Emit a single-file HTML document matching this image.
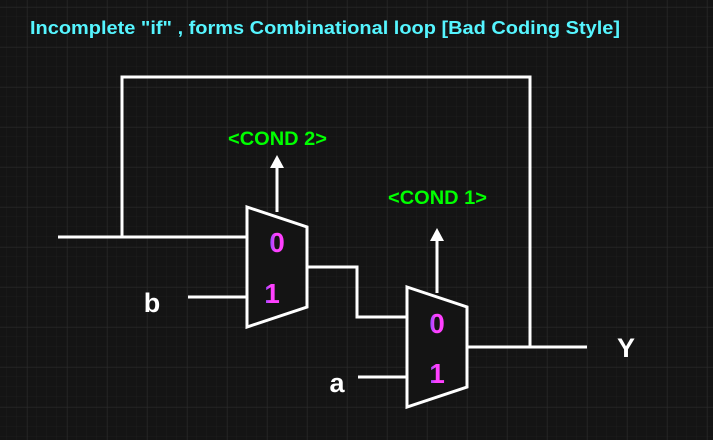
<!DOCTYPE html>
<html><head><style>
html,body{margin:0;padding:0;background:#141414;}
svg{display:block;}
text{font-family:"Liberation Sans",Arial,sans-serif;font-weight:bold;}
</style></head><body>
<svg width="713" height="440" viewBox="0 0 713 440" xmlns="http://www.w3.org/2000/svg">
<defs>
<pattern id="minor" x="7" y="7" width="10" height="10" patternUnits="userSpaceOnUse">
<path d="M10 0V10M0 10H10" stroke="#1d1d1d" stroke-width="1" fill="none"/>
</pattern>
<pattern id="major" x="27.5" y="7.5" width="40" height="40" patternUnits="userSpaceOnUse">
<path d="M0 0V40M0 0H40" stroke="#2c2c2c" stroke-width="1" fill="none"/>
</pattern>
<linearGradient id="mg" x1="0" x2="1" y1="0" y2="0">
<stop offset="0" stop-color="#7a4cff"/><stop offset="0.4" stop-color="#ff40ff"/><stop offset="1" stop-color="#ff40ff"/>
</linearGradient>
</defs>
<rect width="713" height="440" fill="#141414"/>
<rect width="713" height="440" fill="url(#minor)"/>
<rect width="713" height="440" fill="url(#major)"/>

<text x="30" y="34" font-size="18" fill="#55f5ff" textLength="590" lengthAdjust="spacingAndGlyphs">Incomplete "if" , forms Combinational loop [Bad Coding Style]</text>

<g stroke="#fff" stroke-width="3" fill="none">
<polyline points="58,237 247,237"/>
<polyline points="122,237 122,77 530,77 530,347"/>
<polyline points="468,347 587,347"/>
<polyline points="188,297 247,297"/>
<polyline points="307,267 357,267 357,317 407,317"/>
<polyline points="358,377 407,377"/>
<line x1="277" y1="212" x2="277" y2="165"/>
<line x1="437" y1="293" x2="437" y2="238"/>
<polygon points="247,207 307,227 307,307 247,327" fill="#141414"/>
<polygon points="407,287 467,307 467,387 407,407" fill="#141414"/>
</g>
<polygon points="277,155 270,168 284,168" fill="#fff"/>
<polygon points="437,228 430,241 444,241" fill="#fff"/>

<text x="228" y="145" font-size="19" fill="#00ff00" textLength="99" lengthAdjust="spacingAndGlyphs">&lt;COND 2&gt;</text>
<text x="388" y="204" font-size="19" fill="#00ff00" textLength="99" lengthAdjust="spacingAndGlyphs">&lt;COND 1&gt;</text>

<g font-size="28" fill="url(#mg)" text-anchor="middle">
<text x="277" y="252">0</text>
<text x="272" y="303">1</text>
<text x="437" y="333">0</text>
<text x="437" y="383">1</text>
</g>
<g font-size="27" fill="#fff" text-anchor="middle">
<text x="152" y="312">b</text>
<text x="337" y="392">a</text>
<text x="626" y="357">Y</text>
</g>
</svg>
</body></html>
